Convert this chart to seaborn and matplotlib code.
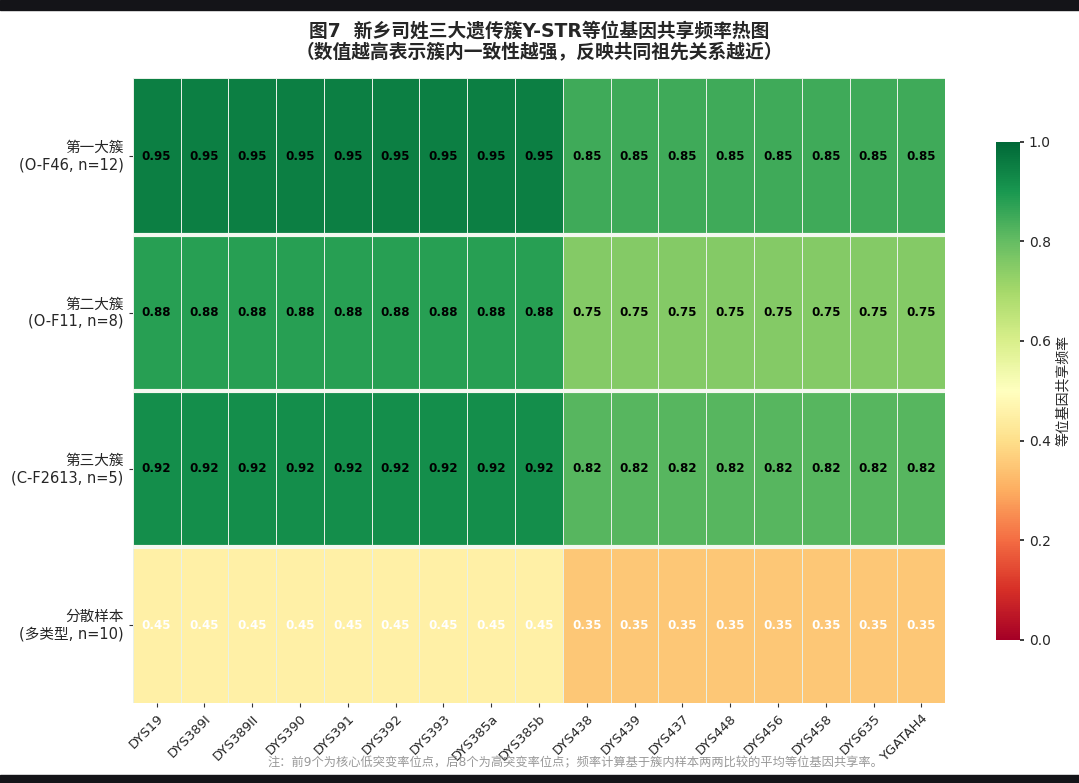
import matplotlib
matplotlib.use("Agg")
import matplotlib.pyplot as plt
from matplotlib.patches import Rectangle
import seaborn as sns
import numpy as np
import pandas as pd

sns.set_theme(style="white")
plt.rcParams['font.family'] = ['DejaVu Sans', 'Noto Sans CJK SC']
plt.rcParams['axes.unicode_minus'] = False

loci = ["DYS19", "DYS389I", "DYS389II", "DYS390", "DYS391", "DYS392", "DYS393",
        "DYS385a", "DYS385b", "DYS438", "DYS439", "DYS437", "DYS448", "DYS456",
        "DYS458", "DYS635", "YGATAH4"]
clusters = ["第一大簇\n(O-F46, n=12)", "第二大簇\n(O-F11, n=8)",
            "第三大簇\n(C-F2613, n=5)", "分散样本\n(多类型, n=10)"]

row1 = [0.95, 0.95, 0.95, 0.95, 0.95, 0.95, 0.95, 0.95, 0.95,
        0.85, 0.85, 0.85, 0.85, 0.85, 0.85, 0.85, 0.85]
row2 = [0.88, 0.88, 0.88, 0.88, 0.88, 0.88, 0.88, 0.88, 0.88,
        0.75, 0.75, 0.75, 0.75, 0.75, 0.75, 0.75, 0.75]
row3 = [0.92, 0.92, 0.92, 0.92, 0.92, 0.92, 0.92, 0.92, 0.92,
        0.82, 0.82, 0.82, 0.82, 0.82, 0.82, 0.82, 0.82]
row4 = [0.45, 0.45, 0.45, 0.45, 0.45, 0.45, 0.45, 0.45, 0.45,
        0.35, 0.35, 0.35, 0.35, 0.35, 0.35, 0.35, 0.35]

df = pd.DataFrame([row1, row2, row3, row4], index=clusters, columns=loci)

fig = plt.figure(figsize=(10.79, 7.83), dpi=100)
ax = fig.add_axes([0.123, 0.102, 0.753, 0.798])
cax = fig.add_axes([0.923, 0.183, 0.022, 0.636])

sns.heatmap(df, ax=ax, cbar_ax=cax, cmap="RdYlGn", vmin=0, vmax=1,
            annot=True, fmt=".2f", linewidths=0.5, linecolor="#e8f0e8",
            annot_kws={"fontsize": 8.6, "fontweight": "bold"},
            cbar_kws={"label": "等位基因共享频率"})

for t in ax.texts:
    try:
        v = float(t.get_text())
    except ValueError:
        continue
    t.set_color("white" if v < 0.5 else "black")

for y in range(1, len(clusters)):
    ax.axhline(y, color="#f4f8f0", linewidth=3)

ax.set_xticks(np.arange(len(loci)) + 0.5)
ax.set_xticklabels(loci, rotation=45, ha="right", rotation_mode="anchor", fontsize=9.5)
ax.set_yticklabels(clusters, rotation=0, fontsize=10.5)
ax.tick_params(axis="both", which="both", length=3, width=0.8, color="#333333", left=True, bottom=True)
ax.set_xlabel("")
ax.set_ylabel("")

cax.tick_params(labelsize=10, length=3)
cax.set_ylabel("等位基因共享频率", fontsize=10)

fig.text(0.5, 0.973, "图7  新乡司姓三大遗传簇Y-STR等位基因共享频率热图\n（数值越高表示簇内一致性越强，反映共同祖先关系越近）",
         ha="center", va="top", fontsize=13.5, fontweight="bold", linespacing=1.2)
fig.text(0.533, 0.0255, "注：前9个为核心低突变率位点，后8个为高突变率位点；频率计算基于簇内样本两两比较的平均等位基因共享率。",
         ha="center", va="center", fontsize=8.8, color="#999999")

fig.add_artist(Rectangle((0, 1 - 10 / 783), 1, 10 / 783, transform=fig.transFigure,
                         color="#141418", zorder=10))
fig.add_artist(Rectangle((0, 0), 1, 8 / 783, transform=fig.transFigure,
                         color="#141418", zorder=10))

fig.savefig("out.png", dpi=100)
